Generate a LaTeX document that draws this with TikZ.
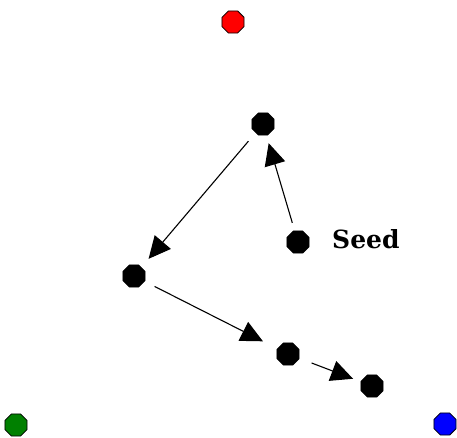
\documentclass[tikz,border=0pt]{standalone}
\usepackage{fontspec}
\newfontfamily\seedfont{DejaVu Serif}
\usetikzlibrary{shapes.geometric,arrows.meta}
\begin{document}
\begin{tikzpicture}[x=1pt,y=-1pt,
  dot/.style={regular polygon,regular polygon sides=8,minimum size=24pt,inner sep=0pt,draw=black,line width=0.8pt},
  conn/.style={line width=1.1pt,-{Triangle[length=22pt,width=21pt]}}]
\useasboundingbox[fill=white] (0,0) rectangle (457,438);
\node[dot,fill=red] (r) at (233,22) {};
\node[dot,fill=black] (a) at (263,124) {};
\node[dot,fill=black] (s) at (298,242) {};
\node[dot,fill=black] (b) at (134,276) {};
\node[dot,fill=black] (c) at (288,354) {};
\node[dot,fill=black] (d) at (372,386) {};
\node[dot,fill=green!50!black] (g) at (16,425) {};
\node[dot,fill=blue] (bl) at (445,424) {};
\node[anchor=west,inner sep=0pt,font=\seedfont\bfseries\fontsize{25}{25}\selectfont] (lbl) at (332,239) {Seed};
\draw[conn,shorten <=8pt,shorten >=8pt] (s) -- (a);
\draw[conn,shorten <=11pt,shorten >=11pt] (a) -- (b);
\draw[conn,shorten <=11pt,shorten >=16pt] (b) -- (c);
\draw[conn,shorten <=13pt,shorten >=8pt] (c) -- (d);
\end{tikzpicture}
\end{document}
